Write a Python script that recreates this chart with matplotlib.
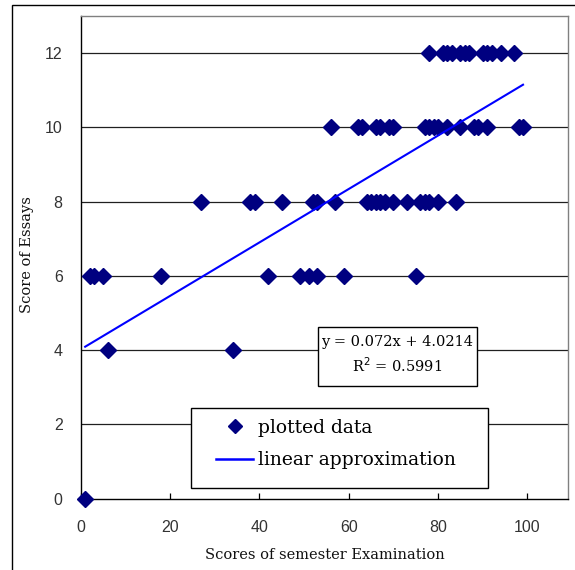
import matplotlib
matplotlib.use("Agg")
import matplotlib.pyplot as plt
from matplotlib.patches import Rectangle
from matplotlib.lines import Line2D

# exam scores grouped by essay score
essay_levels = [12, 10, 8, 6, 4, 0]
exam_12 = [78, 81, 82, 83, 85, 86, 87, 90, 91, 92, 94, 97]
exam_10 = [56, 62, 63, 66, 67, 69, 70, 77, 78, 79, 80, 82, 85, 88, 89, 91, 98, 99]
exam_8 = [27, 38, 39, 45, 52, 53, 57, 64, 65, 66, 67, 68, 70, 73, 76, 77, 78, 80, 84]
exam_6 = [2, 3, 5, 18, 42, 49, 51, 53, 59, 75]
exam_4 = [6, 34]
exam_0 = [1]

slope = 0.072
intercept = 4.0214
r2 = 0.5991

x_ticks = [0, 20, 40, 60, 80, 100]
y_ticks = [0, 2, 4, 6, 8, 10, 12]

groups = [exam_12, exam_10, exam_8, exam_6, exam_4, exam_0]
xs = []
ys = []
for lvl, g in zip(essay_levels, groups):
    xs += g
    ys += [lvl] * len(g)

W, H = 575, 570
fig = plt.figure(figsize=(W / 100, H / 100), dpi=100)
ax = fig.add_axes([80.7 / W, 1 - 498.7 / H, (567.7 - 80.7) / W, (498.7 - 16) / H])

serif = "DejaVu Serif"
navy = "#000080"

ax.set_xlim(0, 109)
ax.set_ylim(0, 13)
ax.set_xticks(x_ticks)
ax.set_yticks(y_ticks)

for y in y_ticks[1:]:
    ax.axhline(y, color="#202020", lw=0.9, zorder=0.5)

ax.plot(xs, ys, linestyle="none", marker="D", ms=8, color=navy,
        markeredgecolor=navy, zorder=3, clip_on=False)

x0, x1 = min(xs), max(xs)
ax.plot([x0, x1], [slope * x0 + intercept, slope * x1 + intercept],
        color="#0000ff", lw=1.5, zorder=3.5)

for s in ["left", "bottom"]:
    ax.spines[s].set_color("black")
    ax.spines[s].set_linewidth(1.0)
for s in ["top", "right"]:
    ax.spines[s].set_color("#808080")
    ax.spines[s].set_linewidth(1.0)

ax.tick_params(axis="x", direction="in", length=4.5, width=0.9, pad=15,
               labelsize=11.5, colors="black")
ax.tick_params(axis="y", length=0, pad=13, labelsize=11.5)
for lab in ax.get_xticklabels() + ax.get_yticklabels():
    lab.set_fontfamily("Liberation Sans")
    lab.set_color("#333333")

fig.text(325 / W, 1 - 555 / H, "Scores of semester Examination",
         family=serif, fontsize=10.5, ha="center", va="center", color="#111111")
fig.text(27 / W, 1 - 255 / H, "Score of Essays", family=serif,
         fontsize=10.5, rotation=90, ha="center", va="center", color="#111111")

# equation box
eq_box = Rectangle((318 / W, 1 - 385.7 / H), (477 - 318) / W, (385.7 - 326.7) / H,
                   transform=fig.transFigure, facecolor="white", edgecolor="black",
                   lw=1.0, zorder=4, clip_on=False)
ax.add_patch(eq_box)
ax.text(397 / W, 1 - 342 / H, "y = %.3fx + %.4f" % (slope, intercept),
        transform=fig.transFigure, family=serif, fontsize=10.5,
        ha="center", va="center", zorder=5)
ax.text(397 / W, 1 - 366 / H, "R$^2$ = %.4f" % r2,
        transform=fig.transFigure, family=serif, fontsize=10.5,
        ha="center", va="center", zorder=5)

# legend box
leg_box = Rectangle((191 / W, 1 - 488 / H), (488 - 191) / W, (488 - 408) / H,
                    transform=fig.transFigure, facecolor="white", edgecolor="black",
                    lw=1.0, zorder=4, clip_on=False)
ax.add_patch(leg_box)
handles = [
    Line2D([], [], linestyle="none", marker="D", ms=7, color=navy),
    Line2D([], [], color="#0000ff", lw=1.8),
]
ax.legend(handles, ["plotted data", "linear approximation"],
          loc="upper left", bbox_to_anchor=(216 / W, 1 - 419 / H),
          bbox_transform=fig.transFigure, frameon=False,
          prop={"family": serif, "size": 13.5}, borderpad=0, borderaxespad=0,
          handlelength=2.0, handletextpad=0.25, labelspacing=0.75)

# outer chart border (image is cropped on the right/bottom)
fig.patches.append(Rectangle((12 / W, -0.1), 1.2, 1 - 5 / H + 0.1,
                             transform=fig.transFigure, fill=False,
                             edgecolor="black", lw=1.0))

fig.savefig("out.png", dpi=100)
